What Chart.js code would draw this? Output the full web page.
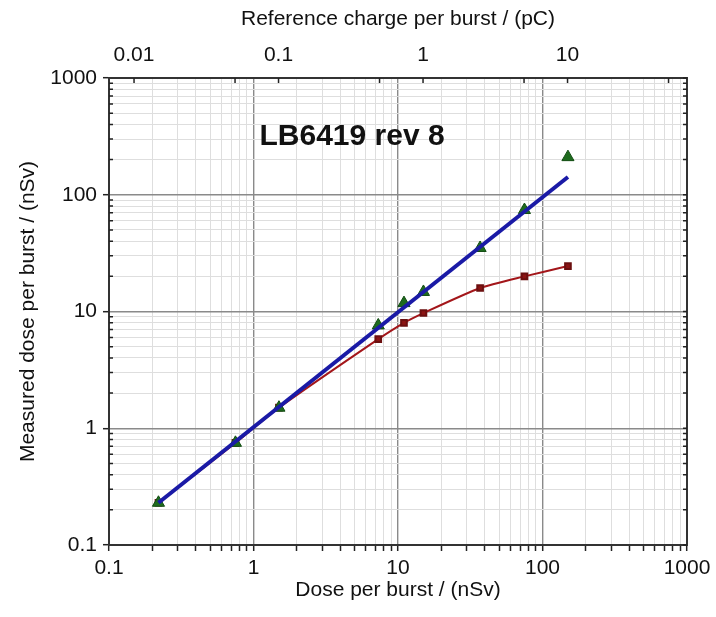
<!DOCTYPE html>
<html>
<head>
<meta charset="utf-8">
<script src="https://cdn.jsdelivr.net/npm/chart.js@4/dist/chart.umd.min.js"></script>
<style>
  html, body { margin: 0; padding: 0; background: #fff; }
  #wrap { width: 716px; height: 617px; }
</style>
</head>
<body>
<div id="wrap"><canvas id="chart" width="716" height="617"></canvas></div>
<script>
// values
const doseX = [0.22, 0.75, 1.5, 7.3, 11, 15, 37, 75, 150];
const measuredTriangle = [0.23, 0.75, 1.5, 7.6, 11.8, 14.7, 35, 74, 210];
const measuredSquare = [0.23, 0.75, 1.5, 5.8, 8.0, 9.7, 15.9, 20, 24.5];
const fitX = [0.22, 150];
const fitY = [0.23, 142];

// axes
const doseMajor = [0.1, 1, 10, 100, 1000];
const doseLabels = ['0.1', '1', '10', '100', '1000'];
const chargeMajor = [0.01, 0.1, 1, 10];
const chargeLabels = ['0.01', '0.1', '1', '10'];
const chargeMinor = [0.05, 0.5, 5, 50];
const pcPerNsv = 0.0671; // top axis scale factor

const annotationText = 'LB6419 rev 8';

// 1..9 in every decade
function withMinors(majors) {
  const out = [];
  majors.forEach((d, i) => {
    if (i < majors.length - 1) {
      for (let m = 1; m < 10; m++) out.push(+(d * m).toPrecision(3));
    } else {
      out.push(d);
    }
  });
  return out;
}
const doseTicks = withMinors(doseMajor);
const isMajor = v => doseMajor.includes(v);

const fontFamily = "'Liberation Sans', Arial, sans-serif";
const textColor = '#111';

function pts(xs, ys) {
  return xs.map((x, i) => ({ x: x, y: ys[i] }));
}

// petites graduations vers l'intérieur + texte
const extras = {
  id: 'extras',
  afterDraw(chart) {
    const { ctx, chartArea: a, scales } = chart;
    ctx.save();
    ctx.strokeStyle = '#222';
    ctx.lineWidth = 1.5;
    ctx.beginPath();
    doseTicks.forEach(v => {
      const y = scales.y.getPixelForValue(v);
      if (!isMajor(v)) {
        ctx.moveTo(a.left, y); ctx.lineTo(a.left + 4, y);
      }
      ctx.moveTo(a.right, y); ctx.lineTo(a.right - 4, y);
    });
    chargeMajor.concat(chargeMinor).forEach(v => {
      const x = scales.x2.getPixelForValue(v);
      ctx.moveTo(x, a.top); ctx.lineTo(x, a.top + 5);
    });
    ctx.stroke();

    ctx.fillStyle = '#111';
    ctx.font = 'bold 30px ' + fontFamily;
    ctx.textAlign = 'left';
    ctx.textBaseline = 'alphabetic';
    ctx.fillText(annotationText, scales.x.getPixelForValue(1.1), scales.y.getPixelForValue(265));
    ctx.restore();
  }
};

const gridColor = ctx => (isMajor(ctx.tick.value) ? '#8a8a8a' : '#dedede');
const gridWidth = ctx => (isMajor(ctx.tick.value) ? 1.4 : 1);

new Chart(document.getElementById('chart'), {
  type: 'scatter',
  data: {
    datasets: [
      {
        label: 'Fit',
        data: pts(fitX, fitY),
        showLine: true,
        borderColor: '#1a1aa6',
        borderWidth: 4,
        pointRadius: 0,
        order: 1
      },
      {
        label: 'Triangles',
        data: pts(doseX, measuredTriangle),
        showLine: false,
        pointStyle: 'triangle',
        pointRadius: 7,
        pointBackgroundColor: '#1e6b1e',
        pointBorderColor: '#134d13',
        pointBorderWidth: 1,
        order: 2
      },
      {
        label: 'Squares',
        data: pts(doseX, measuredSquare),
        showLine: true,
        tension: 0.2,
        borderColor: '#a3161a',
        borderWidth: 2,
        pointStyle: 'rect',
        pointRadius: 4,
        pointBackgroundColor: '#8b1414',
        pointBorderColor: '#6b0f0f',
        order: 3
      }
    ]
  },
  options: {
    responsive: false,
    devicePixelRatio: 1,
    animation: false,
    layout: { padding: 0 },
    plugins: { legend: { display: false }, tooltip: { enabled: false } },
    scales: {
      x: {
        type: 'logarithmic',
        position: 'bottom',
        min: 0.1,
        max: 1000,
        afterBuildTicks: s => { s.ticks = doseTicks.map(v => ({ value: v })); },
        afterFit: s => { s.height = 72; },
        ticks: {
          autoSkip: false,
          maxRotation: 0,
          padding: 5,
          color: textColor,
          font: { family: fontFamily, size: 21 },
          callback: v => { const i = doseMajor.indexOf(v); return i >= 0 ? doseLabels[i] : ''; }
        },
        grid: { color: gridColor, lineWidth: gridWidth, tickColor: '#222', tickWidth: 1.5, tickLength: 6 },
        border: { color: '#333', width: 2 },
        title: {
          display: true,
          text: 'Dose per burst / (nSv)',
          color: textColor,
          font: { family: fontFamily, size: 21 },
          padding: { top: 0, bottom: 14 }
        }
      },
      x2: {
        type: 'logarithmic',
        position: 'top',
        min: 0.1 * pcPerNsv,
        max: 1000 * pcPerNsv,
        afterBuildTicks: s => { s.ticks = chargeMajor.map(v => ({ value: v })); },
        afterFit: s => { s.height = 78; },
        ticks: {
          autoSkip: false,
          maxRotation: 0,
          padding: 10,
          color: textColor,
          font: { family: fontFamily, size: 21 },
          callback: v => { const i = chargeMajor.indexOf(v); return i >= 0 ? chargeLabels[i] : ''; }
        },
        grid: { drawOnChartArea: false, drawTicks: false },
        border: { color: '#333', width: 2 },
        title: {
          display: true,
          text: 'Reference charge per burst / (pC)',
          color: textColor,
          font: { family: fontFamily, size: 21 },
          padding: { top: 7, bottom: 0 }
        }
      },
      y: {
        type: 'logarithmic',
        position: 'left',
        min: 0.1,
        max: 1000,
        afterBuildTicks: s => { s.ticks = doseTicks.map(v => ({ value: v })); },
        afterFit: s => { s.width = 109; },
        ticks: {
          autoSkip: false,
          padding: 6,
          color: textColor,
          font: { family: fontFamily, size: 21 },
          callback: v => { const i = doseMajor.indexOf(v); return i >= 0 ? doseLabels[i] : ''; }
        },
        grid: {
          color: gridColor,
          lineWidth: gridWidth,
          tickColor: ctx => (isMajor(ctx.tick.value) ? '#222' : 'rgba(0,0,0,0)'),
          tickWidth: 1.5,
          tickLength: 6
        },
        border: { color: '#333', width: 2 },
        title: {
          display: true,
          text: 'Measured dose per burst / (nSv)',
          color: textColor,
          font: { family: fontFamily, size: 21 },
          padding: { top: 16, bottom: 0 }
        }
      },
      y2: {
        type: 'logarithmic',
        position: 'right',
        min: 0.1,
        max: 1000,
        afterFit: s => { s.width = 29; },
        ticks: { display: false },
        grid: { drawOnChartArea: false, drawTicks: false },
        border: { color: '#333', width: 2 }
      }
    }
  },
  plugins: [extras]
});
</script>
</body>
</html>
